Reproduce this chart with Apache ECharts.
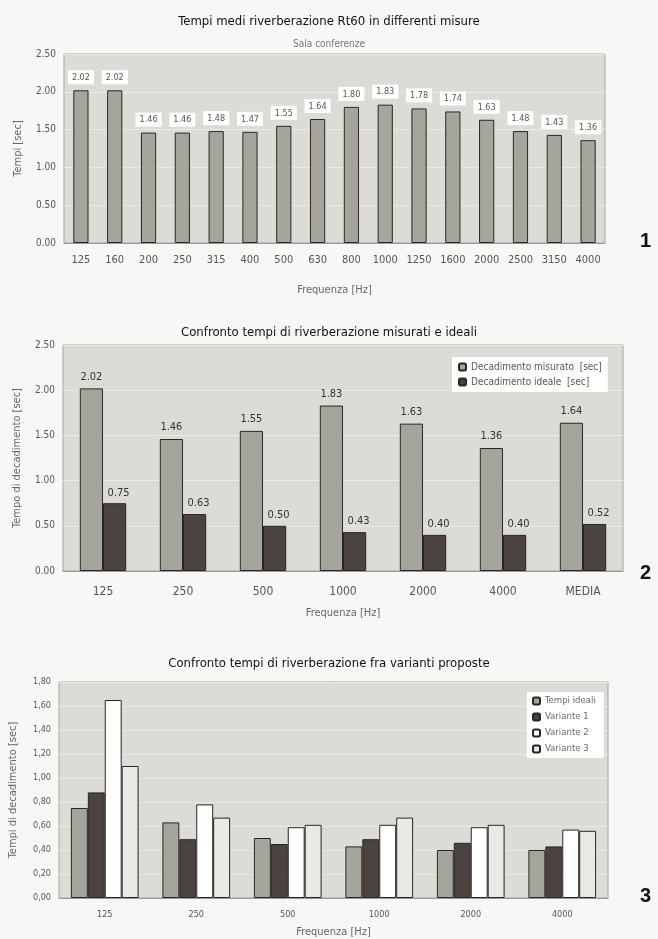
<!DOCTYPE html>
<html>
<head>
<meta charset="utf-8">
<script src="https://cdn.jsdelivr.net/npm/echarts@6/dist/echarts.min.js"></script>
<style>
html,body{margin:0;padding:0;background:#f7f7f5;}
#c{width:658px;height:939px;}
</style>
</head>
<body>
<div id="c"></div>
<script>
// ---- Chart 1 data
const cats1 = ['125','160','200','250','315','400','500','630','800','1000','1250','1600','2000','2500','3150','4000'];
const rt60 = [2.02,2.02,1.46,1.46,1.48,1.47,1.55,1.64,1.80,1.83,1.78,1.74,1.63,1.48,1.43,1.36];
// ---- Chart 2 data
const cats2 = ['125','250','500','1000','2000','4000','MEDIA'];
const misurato = [2.02,1.46,1.55,1.83,1.63,1.36,1.64];
const ideale = [0.75,0.63,0.50,0.43,0.40,0.40,0.52];
// ---- Chart 3 data
const cats3 = ['125','250','500','1000','2000','4000'];
const tempiIdeali = [0.75,0.63,0.50,0.43,0.40,0.40];
const variante1 = [0.88,0.49,0.45,0.49,0.46,0.43];
const variante2 = [1.65,0.78,0.59,0.61,0.59,0.57];
const variante3 = [1.10,0.67,0.61,0.67,0.61,0.56];

const FONT = "'Liberation Sans Narrow','DejaVu Sans Condensed','Liberation Sans',sans-serif";
const plotBg = '#dcdcd7';
const gridLine = '#e9e9e6';
const barGray = '#a4a69c';
const barDark = '#4a4340';
const barWhite = '#ffffff';
const barLight = '#e9e9e5';
const edge = '#2c2424';
const axisCol = '#999';
const txt = '#555';

const chart = echarts.init(document.getElementById('c'), null, {renderer:'canvas'});

function yAxis(idx, max, interval, name, gap, fmt, fs){
  return {
    gridIndex: idx, type:'value', min:0, max:max, interval:interval,
    name:name, nameLocation:'middle', nameGap:gap,
    nameTextStyle:{fontFamily:FONT, fontSize:11, color:'#666'},
    axisLine:{show:false}, axisTick:{show:false},
    axisLabel:{fontFamily:FONT, fontSize:fs, color:txt, formatter:fmt, margin:8},
    splitLine:{lineStyle:{color:gridLine, width:1}}
  };
}
function xAxis(idx, data, name, gap, fs, margin){
  return {
    gridIndex: idx, type:'category', data:data,
    name:name, nameLocation:'middle', nameGap:gap,
    nameTextStyle:{fontFamily:FONT, fontSize:11, color:'#666'},
    axisLine:{show:true, lineStyle:{color:axisCol}}, axisTick:{show:false},
    axisLabel:{fontFamily:FONT, fontSize:fs, color:txt, margin:margin, interval:0}
  };
}
const dot = v => v.toFixed(2);
const comma = v => v.toFixed(2).replace('.', ',');

const option = {
  backgroundColor:'#f7f7f5',
  animation:false,
  title:[
    {text:'Tempi medi riverberazione Rt60 in differenti misure', left:'center', top:10,
     textStyle:{fontFamily:FONT, fontSize:13, fontWeight:'normal', color:'#111'}},
    {text:'Sala conferenze', left:'center', top:34,
     textStyle:{fontFamily:FONT, fontSize:10, fontWeight:'normal', color:'#777'}},
    {text:'Confronto tempi di riverberazione misurati e ideali', left:'center', top:321,
     textStyle:{fontFamily:FONT, fontSize:13, fontWeight:'normal', color:'#111'}},
    {text:'Confronto tempi di riverberazione fra varianti proposte', left:'center', top:652,
     textStyle:{fontFamily:FONT, fontSize:13, fontWeight:'normal', color:'#111'}}
  ],
  grid:[
    {left:64, top:54, width:541, height:189, show:true, backgroundColor:plotBg, borderColor:'#a5a5a5', borderWidth:1},
    {left:63, top:345, width:560, height:226, show:true, backgroundColor:plotBg, borderColor:'#a5a5a5', borderWidth:1},
    {left:59, top:682, width:549, height:219, show:true, backgroundColor:plotBg, borderColor:'#a5a5a5', borderWidth:1}
  ],
  xAxis:[
    xAxis(0, cats1, 'Frequenza [Hz]', 42, 11, 12),
    xAxis(1, cats2, 'Frequenza [Hz]', 37, 12, 15),
    xAxis(2, cats3, 'Frequenza [Hz]', 29, 9, 12)
  ],
  yAxis:[
    yAxis(0, 2.5, 0.5, 'Tempi [sec]', 40, dot, 10),
    yAxis(1, 2.5, 0.5, 'Tempo di decadimento [sec]', 40, dot, 10),
    yAxis(2, 1.8, 0.2, 'Tempi di decadimento [sec]', 40, comma, 9)
  ],
  legend:[
    {data:['Decadimento misurato  [sec]','Decadimento ideale  [sec]'],
     orient:'vertical', left:452, top:357,
     backgroundColor:'#fff', padding:[5,6,5,6], itemGap:5,
     itemWidth:7, itemHeight:7,
     textStyle:{fontFamily:FONT, fontSize:10, color:'#555'}},
    {data:['Tempi ideali','Variante 1','Variante 2','Variante 3'],
     orient:'vertical', left:527, top:692,
     backgroundColor:'#fff', padding:[4,8,4,5], itemGap:6,
     itemWidth:7, itemHeight:7,
     textStyle:{fontFamily:FONT, fontSize:9.5, color:'#666'}}
  ],
  series:[
    {type:'bar', name:'Tempi', xAxisIndex:0, yAxisIndex:0, data:rt60, barCategoryGap:'55%',
     itemStyle:{color:barGray, borderColor:edge, borderWidth:1},
     label:{show:true, position:'top', distance:6, formatter:p=>p.value.toFixed(2),
            fontFamily:FONT, fontSize:9, color:'#555', backgroundColor:'#fff', padding:[3,4,2,4]}},
    {type:'bar', name:'Decadimento misurato  [sec]', xAxisIndex:1, yAxisIndex:1, data:misurato,
     barGap:'0%', barCategoryGap:'42%',
     itemStyle:{color:barGray, borderColor:edge, borderWidth:1},
     label:{show:true, position:'top', distance:6, formatter:p=>p.value.toFixed(2),
            fontFamily:FONT, fontSize:11, color:'#333'}},
    {type:'bar', name:'Decadimento ideale  [sec]', xAxisIndex:1, yAxisIndex:1, data:ideale,
     barGap:'0%', barCategoryGap:'42%',
     itemStyle:{color:barDark, borderColor:edge, borderWidth:1},
     label:{show:true, position:'top', distance:5, offset:[4,0], formatter:p=>p.value.toFixed(2),
            fontFamily:FONT, fontSize:11, color:'#333'}},
    {type:'bar', name:'Tempi ideali', xAxisIndex:2, yAxisIndex:2, data:tempiIdeali,
     barGap:'0%', barCategoryGap:'26%',
     itemStyle:{color:barGray, borderColor:edge, borderWidth:1}},
    {type:'bar', name:'Variante 1', xAxisIndex:2, yAxisIndex:2, data:variante1,
     barGap:'0%', barCategoryGap:'26%',
     itemStyle:{color:barDark, borderColor:edge, borderWidth:1}},
    {type:'bar', name:'Variante 2', xAxisIndex:2, yAxisIndex:2, data:variante2,
     barGap:'0%', barCategoryGap:'26%',
     itemStyle:{color:barWhite, borderColor:edge, borderWidth:1}},
    {type:'bar', name:'Variante 3', xAxisIndex:2, yAxisIndex:2, data:variante3,
     barGap:'0%', barCategoryGap:'26%',
     itemStyle:{color:barLight, borderColor:edge, borderWidth:1}}
  ],
  graphic:[
    {type:'text', left:640, top:231, style:{text:'1', font:"bold 20px 'Liberation Sans',Arial,sans-serif", fill:'#111'}},
    {type:'text', left:640, top:563, style:{text:'2', font:"bold 20px 'Liberation Sans',Arial,sans-serif", fill:'#111'}},
    {type:'text', left:640, top:886, style:{text:'3', font:"bold 20px 'Liberation Sans',Arial,sans-serif", fill:'#111'}}
  ]
};
chart.setOption(option);
</script>
</body>
</html>
